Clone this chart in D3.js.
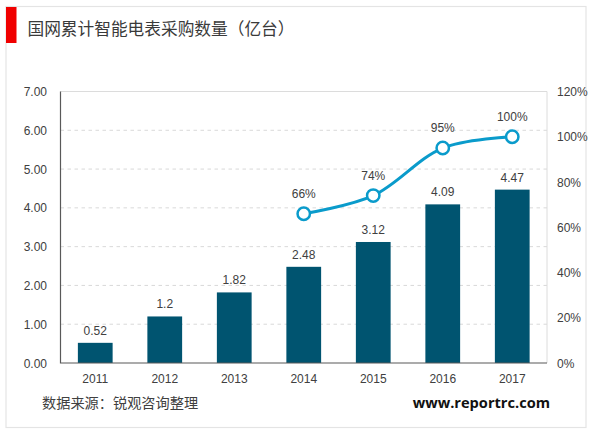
<!DOCTYPE html>
<html>
<head>
<meta charset="utf-8">
<script src="https://cdn.jsdelivr.net/npm/d3@7"></script>
<style>
html, body { margin: 0; padding: 0; background: #fff; }
svg { display: block; }
text { font-family: "Liberation Sans", Arial, sans-serif; fill: #404040; }
.cjk { font-family: "Noto Sans CJK SC", sans-serif; }
</style>
</head>
<body>
<script>
const years = ["2011", "2012", "2013", "2014", "2015", "2016", "2017"];
const purchases = [0.52, 1.2, 1.82, 2.48, 3.12, 4.09, 4.47];
const purchaseLabels = ["0.52", "1.2", "1.82", "2.48", "3.12", "4.09", "4.47"];
const coverage = [null, null, null, 66, 74, 95, 100];
const leftTicks = [0, 1, 2, 3, 4, 5, 6, 7];
const rightTicks = [0, 20, 40, 60, 80, 100, 120];

const width = 600, height = 433;
const plot = {left: 60.5, right: 547, top: 91.5, bottom: 363};

const svg = d3.select("body").append("svg")
    .attr("width", width)
    .attr("height", height);

// outer frame and title marker
svg.append("rect")
    .attr("x", 6).attr("y", 6.5)
    .attr("width", 580).attr("height", 421)
    .attr("fill", "#fff").attr("stroke", "#e4e4e4").attr("stroke-width", 1.2);
svg.append("rect")
    .attr("x", 6).attr("y", 7)
    .attr("width", 10.5).attr("height", 36)
    .attr("fill", "#f00000");
svg.append("text")
    .attr("class", "cjk")
    .attr("x", 27.5).attr("y", 34.5)
    .attr("font-size", 16.7)
    .style("fill", "#3a3a3a")
    .text("国网累计智能电表采购数量（亿台）");

const x = d3.scaleBand().domain(years).range([plot.left, plot.right]).paddingInner(0.5).paddingOuter(0.25);
const yLeft = d3.scaleLinear().domain([0, 7]).range([plot.bottom, plot.top]);
const yRight = d3.scaleLinear().domain([0, 120]).range([plot.bottom, plot.top]);

// gridlines follow the left axis
svg.append("g")
    .selectAll("line")
    .data(leftTicks.filter(d => d > 0 && d < 7))
    .join("line")
    .attr("x1", plot.left).attr("x2", plot.right)
    .attr("y1", d => yLeft(d)).attr("y2", d => yLeft(d))
    .attr("stroke", "#d9d9d9").attr("stroke-dasharray", "3.5 3.5");

// plot border, top and right are light
svg.append("path")
    .attr("d", `M${plot.left},${plot.top}H${plot.right}V${plot.bottom}`)
    .attr("fill", "none").attr("stroke", "#dcdcdc");

// bars
svg.append("g")
    .selectAll("rect")
    .data(years)
    .join("rect")
    .attr("x", d => x(d))
    .attr("y", (d, i) => yLeft(purchases[i]))
    .attr("width", x.bandwidth())
    .attr("height", (d, i) => plot.bottom - yLeft(purchases[i]))
    .attr("fill", "#005470");

svg.append("g")
    .selectAll("text")
    .data(years)
    .join("text")
    .attr("x", d => x(d) + x.bandwidth() / 2)
    .attr("y", (d, i) => yLeft(purchases[i]) - 8)
    .attr("text-anchor", "middle")
    .attr("font-size", 12)
    .text((d, i) => purchaseLabels[i]);

// axis lines
svg.append("path")
    .attr("d", `M${plot.left},${plot.top}V${plot.bottom}H${plot.right}`)
    .attr("fill", "none").attr("stroke", "#595959").attr("stroke-width", 1.2);

// axis labels
svg.append("g")
    .selectAll("text")
    .data(leftTicks)
    .join("text")
    .attr("x", 47).attr("y", d => yLeft(d) + 4.5)
    .attr("text-anchor", "end")
    .attr("font-size", 12)
    .text(d => d.toFixed(2));

svg.append("g")
    .selectAll("text")
    .data(rightTicks)
    .join("text")
    .attr("x", 557).attr("y", d => yRight(d) + 4.5)
    .attr("font-size", 12)
    .text(d => d + "%");

svg.append("g")
    .selectAll("text")
    .data(years)
    .join("text")
    .attr("x", d => x(d) + x.bandwidth() / 2)
    .attr("y", 382.5)
    .attr("text-anchor", "middle")
    .attr("font-size", 12)
    .text(d => d);

// coverage line
const points = years
    .map((year, i) => ({year, value: coverage[i]}))
    .filter(d => d.value !== null);

const line = d3.line()
    .x(d => x(d.year) + x.bandwidth() / 2)
    .y(d => yRight(d.value))
    .curve(d3.curveCatmullRom.alpha(0.5));

svg.append("path")
    .attr("d", line(points))
    .attr("fill", "none").attr("stroke", "#0a9bcb").attr("stroke-width", 3);

svg.append("g")
    .selectAll("circle")
    .data(points)
    .join("circle")
    .attr("cx", d => x(d.year) + x.bandwidth() / 2)
    .attr("cy", d => yRight(d.value))
    .attr("r", 6.2)
    .attr("fill", "#fff").attr("stroke", "#0a9bcb").attr("stroke-width", 2.5);

svg.append("g")
    .selectAll("text")
    .data(points)
    .join("text")
    .attr("x", d => x(d.year) + x.bandwidth() / 2)
    .attr("y", d => yRight(d.value) - 16)
    .attr("text-anchor", "middle")
    .attr("font-size", 12)
    .text(d => d.value + "%");

// footer
svg.append("text")
    .attr("class", "cjk")
    .attr("x", 42).attr("y", 407.5)
    .attr("font-size", 14.2)
    .text("数据来源：锐观咨询整理");
svg.append("text")
    .attr("x", 550).attr("y", 408)
    .attr("text-anchor", "end")
    .attr("font-size", 14.6)
    .attr("font-weight", "bold")
    .style("font-family", "'Open Sans', sans-serif")
    .style("fill", "#111")
    .text("www.reportrc.com");
</script>
</body>
</html>
